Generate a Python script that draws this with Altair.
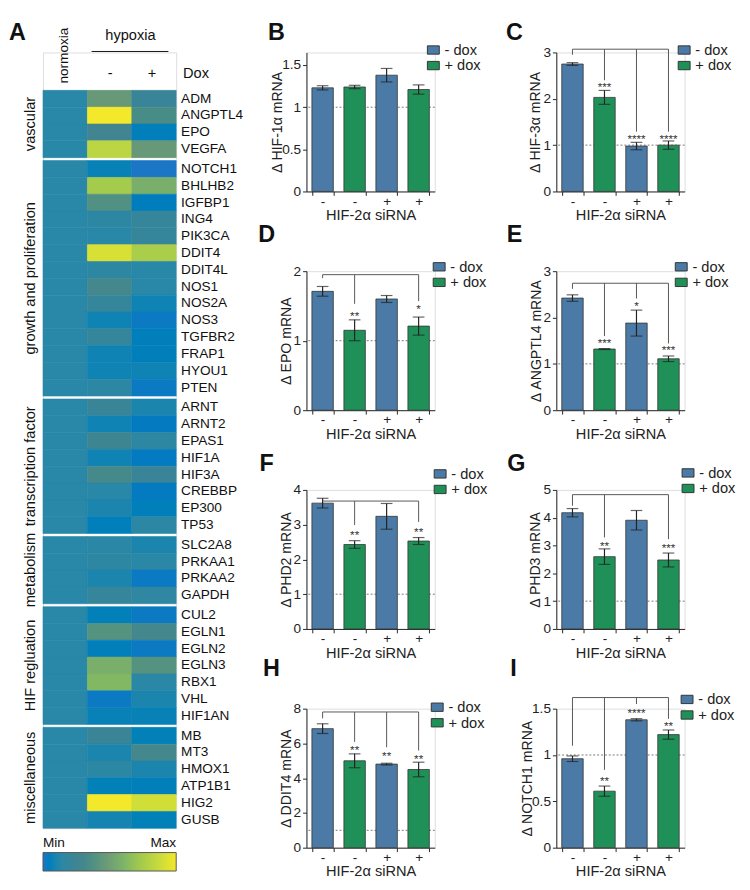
import json
import altair as alt
import pandas as pd

FONT = "Liberation Sans"

# ---------------- Panel A: heatmap data ----------------
group_names = ["vascular", "growth and proliferation", "transcription factor",
               "metabolism", "HIF regluation", "miscellaneous"]
group_genes = [
    ["ADM", "ANGPTL4", "EPO", "VEGFA"],
    ["NOTCH1", "BHLHB2", "IGFBP1", "ING4", "PIK3CA", "DDIT4", "DDIT4L", "NOS1",
     "NOS2A", "NOS3", "TGFBR2", "FRAP1", "HYOU1", "PTEN"],
    ["ARNT", "ARNT2", "EPAS1", "HIF1A", "HIF3A", "CREBBP", "EP300", "TP53"],
    ["SLC2A8", "PRKAA1", "PRKAA2", "GAPDH"],
    ["CUL2", "EGLN1", "EGLN2", "EGLN3", "RBX1", "VHL", "HIF1AN"],
    ["MB", "MT3", "HMOX1", "ATP1B1", "HIG2", "GUSB"],
]
conditions = ["normoxia", "hypoxia -", "hypoxia +"]
normoxia_level = 0.12
hypoxia_minus = [
    [0.46, 1.0, 0.26, 0.82],
    [0.07, 0.74, 0.38, 0.15, 0.12, 0.92, 0.15, 0.3, 0.2, 0.08, 0.2, 0.08, 0.08, 0.14],
    [0.22, 0.08, 0.25, 0.08, 0.32, 0.12, 0.10, 0.05],
    [0.13, 0.15, 0.10, 0.2],
    [0.06, 0.4, 0.05, 0.58, 0.62, 0.02, 0.07],
    [0.22, 0.10, 0.14, 0.06, 1.0, 0.09],
]
hypoxia_plus = [
    [0.22, 0.34, 0.05, 0.46],
    [0.0, 0.58, 0.04, 0.2, 0.2, 0.76, 0.12, 0.12, 0.08, 0.02, 0.05, 0.05, 0.08, 0.02],
    [0.10, 0.03, 0.15, 0.03, 0.22, 0.03, 0.05, 0.14],
    [0.10, 0.13, 0.02, 0.16],
    [0.02, 0.3, 0.02, 0.4, 0.13, 0.10, 0.07],
    [0.06, 0.3, 0.10, 0.05, 0.9, 0.06],
]
color_stops = [0, 0.12, 0.28, 0.48, 0.72, 1.0]
color_range = ["#1b76c6", "#2987a8", "#43848e", "#6e9a76", "#a0c84e", "#f3e829"]

# ---------------- Panels B-I: bar data ----------------
slots = [0, 1, 2, 3]
sirna_labels = ["-", "-", "+", "+"]
dox_levels = ["- dox", "+ dox"]
bar_dox = ["- dox", "+ dox", "- dox", "+ dox"]
bar_colors = ["#4b7aa6", "#1f9158"]
x_title = "HIF-2\u03b1 siRNA"
ref_level = [1]

panels = [
    dict(letter="B", ytitle="\u0394 HIF-1\u03b1 mRNA", mean=[1.23, 1.24, 1.38, 1.21],
         err=[0.025, 0.02, 0.08, 0.055], ticks=[0, 0.5, 1, 1.5], ymax=1.65,
         bracket=None, drops=[], stars=[]),
    dict(letter="C", ytitle="\u0394 HIF-3\u03b1 mRNA", mean=[2.75, 2.03, 0.98, 1.0],
         err=[0.03, 0.15, 0.08, 0.09], ticks=[0, 1, 2, 3], ymax=3.0,
         bracket=3.07, drops=[(0, 2.95), (1, 2.4), (2, 1.29), (3, 1.29)],
         stars=[(1, 2.31, "***"), (2, 1.2, "****"), (3, 1.2, "****")]),
    dict(letter="D", ytitle="\u0394 EPO mRNA", mean=[1.71, 1.15, 1.6, 1.21],
         err=[0.07, 0.15, 0.05, 0.13], ticks=[0, 1, 2], ymax=2.0,
         bracket=1.95, drops=[(0, 1.9), (1, 1.53), (3, 1.57)],
         stars=[(1, 1.4, "**"), (3, 1.49, "*")]),
    dict(letter="E", ytitle="\u0394 ANGPTL4 mRNA", mean=[2.42, 1.32, 1.88, 1.11],
         err=[0.07, 0.01, 0.28, 0.06], ticks=[0, 1, 2, 3], ymax=3.0,
         bracket=2.74, drops=[(0, 2.62), (1, 1.6), (2, 2.41), (3, 1.44)],
         stars=[(1, 1.51, "***"), (2, 2.32, "*"), (3, 1.36, "***")]),
    dict(letter="F", ytitle="\u0394 PHD2 mRNA", mean=[3.62, 2.43, 3.24, 2.53],
         err=[0.14, 0.11, 0.37, 0.1], ticks=[0, 1, 2, 3, 4], ymax=4.0,
         bracket=3.68, drops=[(0, 3.68), (1, 2.99), (3, 3.08)],
         stars=[(1, 2.79, "**"), (3, 2.88, "**")]),
    dict(letter="G", ytitle="\u0394 PHD3 mRNA", mean=[4.18, 2.6, 3.91, 2.48],
         err=[0.15, 0.28, 0.35, 0.25], ticks=[0, 1, 2, 3, 4, 5], ymax=5.0,
         bracket=4.83, drops=[(0, 4.43), (1, 3.29), (3, 3.23)],
         stars=[(1, 3.09, "**"), (3, 3.0, "***")]),
    dict(letter="H", ytitle="\u0394 DDIT4 mRNA", mean=[6.85, 5.0, 4.81, 4.5],
         err=[0.28, 0.4, 0.05, 0.42], ticks=[0, 2, 4, 6, 8], ymax=8.0,
         bracket=7.81, drops=[(0, 7.44), (1, 6.09), (2, 5.78), (3, 5.59)],
         stars=[(1, 5.78, "**"), (2, 5.46, "**"), (3, 5.26, "**")]),
    dict(letter="I", ytitle="\u0394 NOTCH1 mRNA", mean=[0.96, 0.61, 1.38, 1.22],
         err=[0.03, 0.055, 0.012, 0.05], ticks=[0, 0.5, 1, 1.5], ymax=1.5,
         bracket=1.62, drops=[(0, 1.1), (1, 0.84), (2, 1.55), (3, 1.39)],
         stars=[(1, 0.75, "**"), (2, 1.48, "****"), (3, 1.34, "**")]),
]

# ---------------- layout (pixels) ----------------
BAR_W, BAR_H = 132, 143
LETTER_SIZE = 24
layout = {
    "B": dict(letter=(-31, -32), legend=(123, -10), tpad=-3),
    "C": dict(letter=(-43, -32), legend=(124, -10), tpad=0),
    "D": dict(letter=(-41, -49), legend=(129, -12), tpad=0),
    "E": dict(letter=(-43, -49), legend=(121, -12), tpad=-1),
    "F": dict(letter=(-41, -38), legend=(130, -24), tpad=0),
    "G": dict(letter=(-41, -38), legend=(128, -25), tpad=0),
    "H": dict(letter=(-36, -53), legend=(127, -9), tpad=0),
    "I": dict(letter=(-44, -53), legend=(127, -17), tpad=-3),
}
legend_symbol = "M-1,-0.7L1,-0.7L1,0.7L-1,0.7Z"
dummy = pd.DataFrame({"k": [0]})
label_expr = json.dumps(sirna_labels) + "[datum.value]"


def bar_panel(p):
    lay = layout[p["letter"]]
    df = pd.DataFrame({"slot": slots, "dox": bar_dox, "mean": p["mean"], "err": p["err"]})
    df["lo"] = df["mean"] - df["err"]
    df["hi"] = df["mean"] + df["err"]

    xaxis = alt.Axis(labelExpr=label_expr, labelAngle=0, tickBand="extent", tickSize=4,
                     labelFontSize=14, labelPadding=-1, titleFontSize=15, titlePadding=0,
                     titleFontWeight="normal", domainColor="#222", tickColor="#222",
                     labelColor="#222", titleColor="#222")
    yaxis = alt.Axis(values=p["ticks"], format="~g", tickSize=4, labelFontSize=14,
                     titleFontSize=14.5, titleFontWeight="normal", titlePadding=lay["tpad"],
                     domainColor="#222", tickColor="#222", labelColor="#222",
                     titleColor="#222", grid=False)
    xscale = alt.Scale(paddingInner=0.33, paddingOuter=0.17)
    yscale = alt.Scale(domain=[0, p["ymax"]], nice=False, zero=True)

    def X(f):
        return alt.X(f"{f}:O", scale=xscale, axis=xaxis, title=x_title)

    def Y(f):
        return alt.Y(f"{f}:Q", scale=yscale, axis=yaxis, title=p["ytitle"])

    ref = alt.Chart(pd.DataFrame({"ref": ref_level})).mark_rule(
        color="#777", strokeDash=[2, 2], strokeWidth=1).encode(y=Y("ref"))

    bars = alt.Chart(df).mark_bar(stroke="#333", strokeWidth=0.8).encode(
        x=X("slot"), y=Y("mean"),
        color=alt.Color("dox:N", scale=alt.Scale(domain=dox_levels, range=bar_colors),
                        legend=alt.Legend(orient="none", legendX=lay["legend"][0],
                                          legendY=lay["legend"][1], title=None,
                                          symbolType=legend_symbol, symbolSize=150,
                                          symbolStrokeColor="#333", symbolStrokeWidth=1,
                                          labelFontSize=15, labelColor="#222",
                                          rowPadding=0, padding=0, labelOffset=4)))
    ebar = alt.Chart(df).mark_rule(color="#222", strokeWidth=1.2).encode(
        x=X("slot"), y=Y("lo"), y2="hi")
    cap_lo = alt.Chart(df).mark_tick(color="#222", thickness=1.2, size=12).encode(
        x=X("slot"), y=Y("lo"))
    cap_hi = alt.Chart(df).mark_tick(color="#222", thickness=1.2, size=12).encode(
        x=X("slot"), y=Y("hi"))
    letter = alt.Chart(dummy).mark_text(
        text=p["letter"], fontSize=LETTER_SIZE, fontWeight="bold", align="center",
        baseline="top", color="#111").encode(
        x=alt.value(lay["letter"][0]), y=alt.value(lay["letter"][1]))

    layers = [ref, bars, ebar, cap_lo, cap_hi]
    if p["bracket"] is not None:
        ds = [d[0] for d in p["drops"]]
        hdf = pd.DataFrame({"a": [min(ds)], "b": [max(ds)], "yb": [p["bracket"]]})
        hline = alt.Chart(hdf).mark_rule(color="#555", strokeWidth=1).encode(
            x=X("a"), x2="b", y=Y("yb"))
        ddf = pd.DataFrame({"slot": ds, "top": [p["bracket"]] * len(ds),
                            "end": [d[1] for d in p["drops"]]})
        drops = alt.Chart(ddf).mark_rule(color="#555", strokeWidth=1).encode(
            x=X("slot"), y=Y("top"), y2="end")
        sdf = pd.DataFrame({"slot": [s[0] for s in p["stars"]],
                            "sy": [s[1] for s in p["stars"]],
                            "t": [s[2] for s in p["stars"]]})
        stars = alt.Chart(sdf).mark_text(fontSize=12, color="#333", baseline="middle",
                                         dy=3).encode(x=X("slot"), y=Y("sy"), text="t:N")
        layers += [hline, drops, stars]
    layers.append(letter)
    return alt.layer(*layers).properties(width=BAR_W, height=BAR_H)


# ---------------- heatmap ----------------
HM_W = 137
ROW = 17.3
GAP = 3.0
HEAD = 39
gap_u = GAP / ROW
cells, labels, gcent = [], [], []
pos = 0.0
for gi, genes in enumerate(group_genes):
    start = pos
    for j, g in enumerate(genes):
        vals = [normoxia_level, hypoxia_minus[gi][j], hypoxia_plus[gi][j]]
        for c, v in zip(conditions, vals):
            cells.append(dict(gene=g, cond=c, y0=pos, y1=pos + 1, v=v))
        labels.append(dict(gene=g, yc=pos + 0.5))
        pos += 1
    gcent.append(dict(group=group_names[gi], yc=(start + pos) / 2))
    pos += gap_u
total = pos - gap_u
HM_H = round((total + HEAD / ROW) * ROW)
ysc = alt.Scale(domain=[-HEAD / ROW, total], reverse=True, nice=False, zero=False)
cscale = alt.Scale(domain=color_stops, range=color_range)

cells_df = pd.DataFrame(cells)
rects = alt.Chart(cells_df).mark_rect(strokeWidth=0.6).encode(
    x=alt.X("cond:N", sort=conditions, axis=None,
            scale=alt.Scale(paddingInner=0, paddingOuter=0)),
    y=alt.Y("y0:Q", scale=ysc, axis=None), y2="y1",
    stroke=alt.Stroke("v:Q", scale=cscale, legend=None),
    color=alt.Color("v:Q", scale=cscale,
                    legend=alt.Legend(orient="none", direction="horizontal",
                                      legendX=0, legendY=HM_H + 25,
                                      gradientLength=HM_W, gradientThickness=19,
                                      title=None, labelOpacity=0, labelFontSize=1,
                                      gradientStrokeColor="#555",
                                      gradientStrokeWidth=1, padding=0)))
gene_text = alt.Chart(pd.DataFrame(labels)).mark_text(
    align="left", baseline="middle", fontSize=14, color="#111").encode(
    x=alt.value(HM_W + 5), y=alt.Y("yc:Q", scale=ysc, axis=None), text="gene:N")
group_text = alt.Chart(pd.DataFrame(gcent)).mark_text(
    align="center", baseline="middle", fontSize=15, angle=270, color="#111").encode(
    x=alt.value(-13), y=alt.Y("yc:Q", scale=ysc, axis=None), text="group:N")


def htext(t, x, y, **kw):
    return alt.Chart(dummy).mark_text(text=t, color="#111", **kw).encode(
        x=alt.value(x), y=alt.value(y))


header = [
    htext("A", -35, -32, fontSize=LETTER_SIZE, fontWeight="bold", align="left",
          baseline="top"),
    htext("normoxia", 22, 32, fontSize=14, angle=270, align="left", baseline="middle"),
    htext("hypoxia", 90, -18, fontSize=15, align="center", baseline="middle"),
    htext("-", 69, 21, fontSize=15, align="center", baseline="middle"),
    htext("+", 112, 21, fontSize=15, align="center", baseline="middle"),
    htext("Dox", 144, 21, fontSize=15, align="left", baseline="middle"),
    htext("Min", 0, HM_H + 15, fontSize=14, align="left", baseline="middle"),
    htext("Max", HM_W, HM_H + 15, fontSize=14, align="right", baseline="middle"),
]
hyp_line = alt.Chart(dummy).mark_rule(color="#111", strokeWidth=1).encode(
    x=alt.value(50), x2=alt.value(129), y=alt.value(-1))

heatmap = alt.layer(rects, gene_text, group_text, hyp_line, *header).properties(
    width=HM_W, height=HM_H).resolve_scale(stroke="shared", color="shared")

# ---------------- assemble ----------------
grid = alt.concat(*[bar_panel(p) for p in panels], columns=2,
                  spacing={"row": 82, "column": 125}, bounds="flush").resolve_scale(
    color="independent", x="independent", y="independent")

chart = alt.hconcat(heatmap, grid, spacing=134, bounds="flush").resolve_scale(
    color="independent", x="independent", y="independent").properties(
    padding={"left": 0, "top": 0, "right": 5, "bottom": 5}
).configure_view(strokeWidth=0).configure_axis(
    labelFont=FONT, titleFont=FONT).configure_legend(
    labelFont=FONT).configure_text(font=FONT).configure(font=FONT)

chart.save("out.html", embed_options={"renderer": "svg", "actions": False})
